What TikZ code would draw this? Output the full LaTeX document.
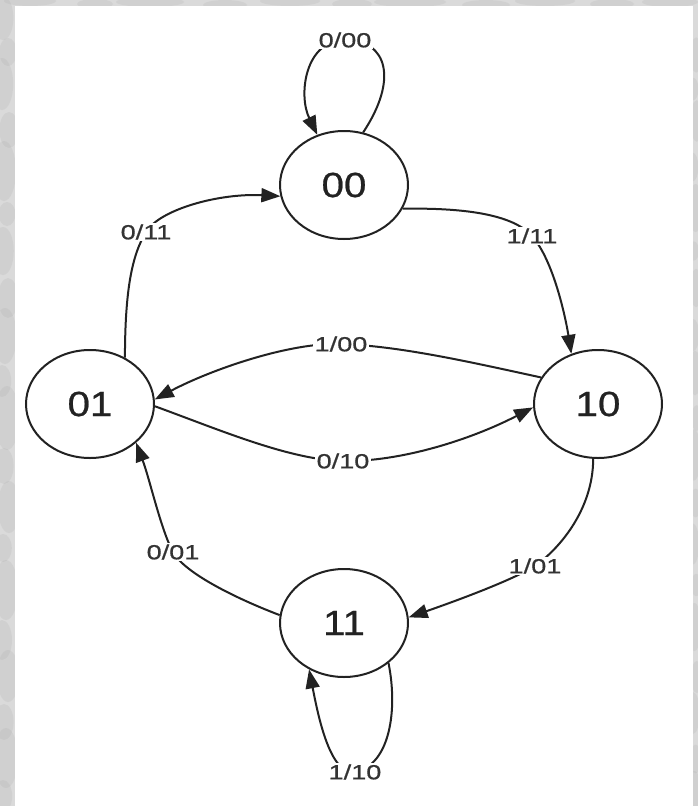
\documentclass[tikz,border=0pt]{standalone}
\usepackage{graphicx}
\usepackage{fontspec}
\setmainfont{Liberation Sans}
\newfontfamily\chartfont[FakeBold=0.6]{Liberation Sans}
\usetikzlibrary{arrows.meta,shapes.geometric}

\definecolor{ink}{HTML}{222222}
\definecolor{txt}{HTML}{333333}
\definecolor{marble}{HTML}{DADADA}
\definecolor{vein}{HTML}{9A9A9A}

% wide sans digits as in the state chart
\newcommand\statelabel[1]{\scalebox{1.15}[1]{#1}}
\newcommand\edgelabel[1]{\scalebox{1.32}[1]{#1}}

\begin{document}
\begin{tikzpicture}[x=1pt,y=-1pt,
  state/.style={ellipse, draw=ink, line width=2pt, fill=white,
    minimum width=128pt, minimum height=108pt, inner sep=0pt,
    text=ink, font=\chartfont\fontsize{35}{35}\selectfont},
  trans/.style={draw=ink, line width=2pt,
    -{Triangle[length=19pt,width=14pt]}},
  elabel/.style={fill=white, inner sep=1.5pt, text=txt,
    font=\chartfont\fontsize{20.5}{20.5}\selectfont},
  patch/.style={fill=vein, opacity=.14}]

\useasboundingbox (0,0) rectangle (698,806);

% mottled marble backdrop and white sheet
\fill[marble] (0,0) rectangle (698,806);
\foreach \y/\r/\d in {18/22/3,52/14/8,84/26/2,130/18/9,171/30/4,214/12/7,
    251/24/3,298/20/8,336/28/5,381/16/2,418/32/7,466/18/4,507/26/9,
    548/14/3,590/30/6,640/20/2,676/26/8,722/18/4,758/30/6,796/16/3}{
  \fill[patch] (\d,\y) ellipse [x radius=6+0.2*\r, y radius=\r];
  \fill[patch] (698-0.6*\d,\y+37) ellipse [x radius=4+0.1*\r, y radius=0.8*\r];
}
\foreach \x/\r/\d in {30/26/1,95/18/4,150/34/2,225/22/5,290/30/1,352/20/4,
    410/36/2,486/24/5,545/30/1,612/22/4,670/28/2}{
  \fill[patch] (\x,\d) ellipse [x radius=\r, y radius=5];
}
\fill[white] (15,6) rectangle (693,806);

% states
\node[state] (s00) at (344,185) {\statelabel{00}};
\node[state] (s01) at (90,404)  {\statelabel{01}};
\node[state] (s10) at (598,404) {\statelabel{10}};
\node[state] (s11) at (344,623) {\statelabel{11}};

% label positions on the transitions
\coordinate (c000) at (345,40);
\coordinate (c011) at (146,232);
\coordinate (c111) at (532,236);
\coordinate (c100) at (341,344);
\coordinate (c010) at (343,461);
\coordinate (c101) at (535,566);
\coordinate (c001) at (173,552);
\coordinate (c110) at (355,772);

% transitions
\draw[trans] (s00.70) .. controls (398,80) and (388,40) .. (c000)
  .. controls (305,40) and (298,95) .. (s00.118);
\draw[trans] (s01.53) .. controls (125,290) and (132,255) .. (c011)
  .. controls (160,209) and (220,193) .. (s00.190);
\draw[trans] (s00.-22) .. controls (450,208) and (510,211) .. (c111)
  .. controls (554,261) and (566,320) .. (s10.118);
\draw[trans] (s10.155) .. controls (470,362) and (400,346) .. (c100)
  .. controls (290,342) and (210,370) .. (s01.4);
\draw[trans] (s01.-2) .. controls (220,430) and (290,460) .. (c010)
  .. controls (400,462) and (470,440) .. (s10.183);
\draw[trans] (s10.-95) .. controls (593,510) and (559,549) .. (c101)
  .. controls (511,581) and (450,603) .. (s11.5);
\draw[trans] (s11.173) .. controls (240,600) and (185,574) .. (c001)
  .. controls (161,530) and (150,480) .. (s01.-40);
\draw[trans] (s11.-42) .. controls (398,710) and (390,765) .. (c110)
  .. controls (330,776) and (318,715) .. (s11.233);

% transition labels
\node[elabel] (t000) at (c000) {\edgelabel{0/00}};
\node[elabel] (t011) at (c011) {\edgelabel{0/11}};
\node[elabel] (t111) at (c111) {\edgelabel{1/11}};
\node[elabel] (t100) at (c100) {\edgelabel{1/00}};
\node[elabel] (t010) at (c010) {\edgelabel{0/10}};
\node[elabel] (t101) at (c101) {\edgelabel{1/01}};
\node[elabel] (t001) at (c001) {\edgelabel{0/01}};
\node[elabel] (t110) at (c110) {\edgelabel{1/10}};
\end{tikzpicture}
\end{document}
